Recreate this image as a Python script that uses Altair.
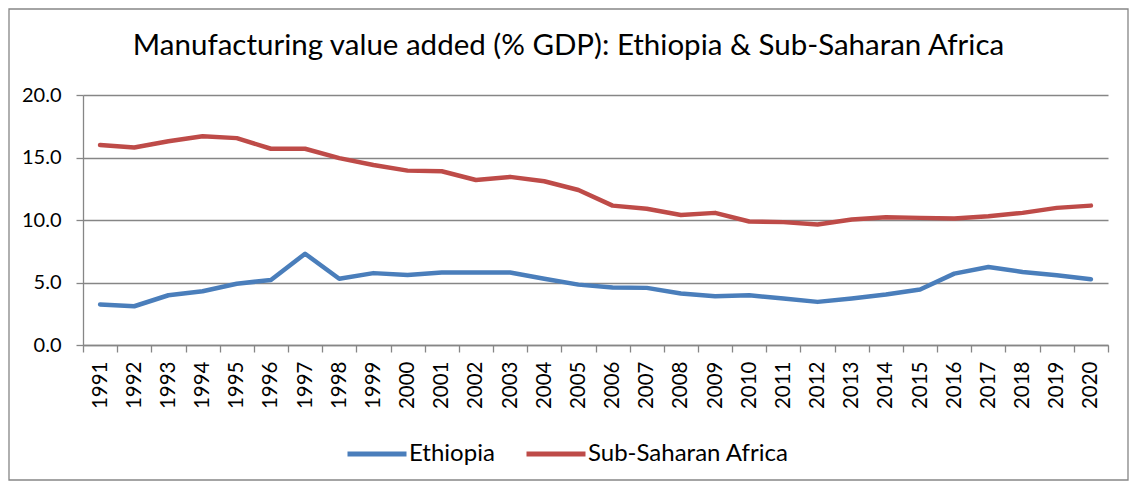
import altair as alt
import pandas as pd

years = [str(y) for y in range(1991, 2021)]
ethiopia = [3.24, 3.10, 3.98, 4.30, 4.90, 5.20, 7.30, 5.30, 5.75, 5.60,
            5.80, 5.80, 5.80, 5.30, 4.83, 4.60, 4.57, 4.12, 3.90, 3.98,
            3.72, 3.45, 3.72, 4.04, 4.44, 5.71, 6.24, 5.84, 5.58, 5.26]
ssa = [16.00, 15.80, 16.30, 16.70, 16.55, 15.70, 15.70, 14.95, 14.40, 13.95,
       13.90, 13.20, 13.45, 13.10, 12.40, 11.15, 10.90, 10.40, 10.57, 9.88,
       9.83, 9.64, 10.04, 10.22, 10.17, 10.12, 10.30, 10.57, 10.97, 11.15]
series_names = ["Ethiopia", "Sub-Saharan Africa"]
series_colors = ["#4a7ebb", "#be4b48"]
y_ticks = [0, 5, 10, 15, 20]

rows = []
for i, yr in enumerate(years):
    rows.append({"year": yr, "series": series_names[0], "value": ethiopia[i]})
    rows.append({"year": yr, "series": series_names[1], "value": ssa[i]})
df = pd.DataFrame(rows)

FONT = "Lato"
GRAY = "#868686"

lines = alt.Chart(df).mark_line(strokeWidth=4.5, strokeCap="round", strokeJoin="round").encode(
    x=alt.X("year:O", bandPosition=0.5,
            scale=alt.Scale(type="band", paddingInner=0, paddingOuter=0),
            axis=alt.Axis(title=None, labelAngle=270, labelAlign="right", labelBaseline="middle",
                          tickBand="extent", tickSize=7, tickColor=GRAY, domainColor=GRAY,
                          tickWidth=1.3, domainWidth=1.3, labelPadding=9,
                          labelFont=FONT, labelFontSize=20.5, labelColor="#000000", grid=False)),
    y=alt.Y("value:Q", scale=alt.Scale(domain=[0, 20], nice=False),
            axis=alt.Axis(title=None, values=y_ticks, format=".1f", tickSize=7, tickColor=GRAY,
                          domainColor=GRAY, tickWidth=1.3, domainWidth=1.3, gridColor=GRAY,
                          gridWidth=1.3, labelPadding=15, labelFont=FONT, labelFontSize=20,
                          labelColor="#000000")),
    color=alt.Color("series:N", scale=alt.Scale(domain=series_names, range=series_colors),
                    legend=alt.Legend(title=None, orient="none", direction="horizontal",
                                      legendX=262, legendY=327, symbolType="stroke",
                                      symbolStrokeWidth=5, symbolSize=3481, labelFont=FONT,
                                      labelFontSize=24, labelColor="#000000", labelOffset=0,
                                      labelLimit=0, columnPadding=21, padding=0)),
)

border = alt.Chart(pd.DataFrame({"a": [0]})).mark_rect(fill="transparent", stroke=GRAY, strokeWidth=1.3).encode(
    x=alt.value(-74), x2=alt.value(1045), y=alt.value(-86), y2=alt.value(385)
)

chart = alt.layer(lines, border).properties(
    width=1025, height=250,
    title=alt.TitleParams("Manufacturing value added (% GDP): Ethiopia & Sub-Saharan Africa",
                          font=FONT, fontSize=29.5, fontWeight="normal", color="#000000",
                          anchor="middle", dx=-27, offset=-76, baseline="alphabetic"),
    autosize=alt.AutoSizeParams(type="none"),
    padding={"left": 75, "top": 87, "right": 21, "bottom": 136},
).configure_view(stroke=None).configure_axis(gridColor=GRAY)

chart.save("out.html", embed_options={"renderer": "svg", "actions": False})
